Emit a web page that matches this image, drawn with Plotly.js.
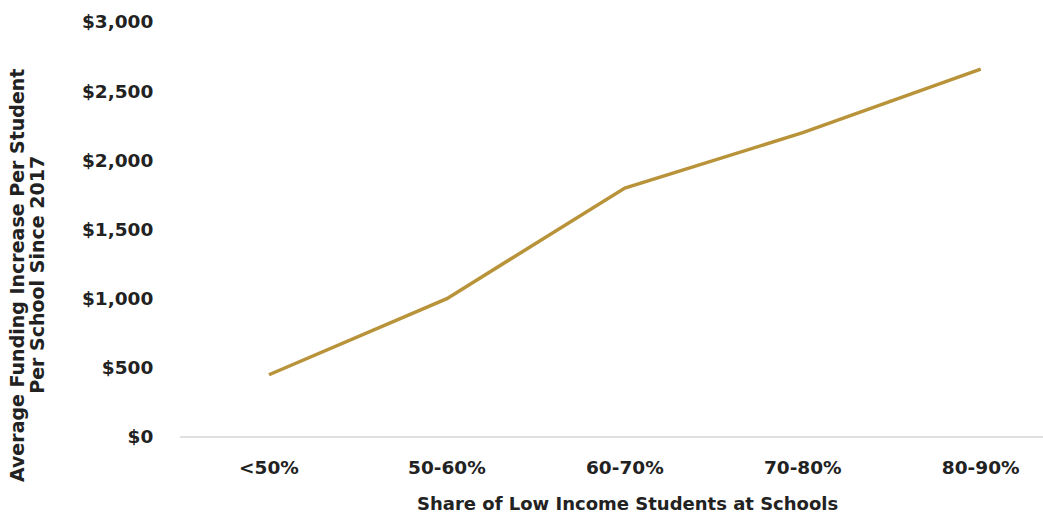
<!DOCTYPE html>
<html>
<head>
<meta charset="utf-8">
<script src="https://cdn.plot.ly/plotly-3.0.1.min.js"></script>
<style>html,body{margin:0;padding:0;background:#fff;}#chart{width:1043px;height:529px;}</style>
</head>
<body>
<div id="chart"></div>
<script>
const categories = ["<50%", "50-60%", "60-70%", "70-80%", "80-90%"];
const fundingIncrease = [450, 1000, 1800, 2200, 2660];
const yTickValues = [0, 500, 1000, 1500, 2000, 2500, 3000];
const yTickLabels = ["$0", "$500", "$1,000", "$1,500", "$2,000", "$2,500", "$3,000"];
const xTitle = "Share of Low Income Students at Schools";
const yTitleLines = ["Average Funding Increase Per Student", "Per School Since 2017"];

const FONT = "'DejaVu Sans', sans-serif";
const INK = "#222222";

const trace = {
  x: categories,
  y: fundingIncrease,
  type: "scatter",
  mode: "lines",
  line: {color: "#b8933a", width: 3.5},
  hoverinfo: "x+y"
};

const layout = {
  width: 1043,
  height: 529,
  margin: {l: 180, r: 0, t: 22, b: 92},
  paper_bgcolor: "#ffffff",
  plot_bgcolor: "#ffffff",
  showlegend: false,
  font: {family: FONT, color: INK, size: 18},
  xaxis: {
    type: "category",
    range: [-0.5, 4.35],
    showgrid: false,
    zeroline: false,
    showline: false,
    ticks: "outside",
    ticklen: 14,
    tickcolor: "rgba(0,0,0,0)",
    tickfont: {family: FONT, size: 18.5, color: INK, weight: "bold"},
    fixedrange: true
  },
  yaxis: {
    range: [0, 3000],
    tickvals: yTickValues,
    ticktext: yTickLabels,
    showgrid: false,
    zeroline: true,
    zerolinecolor: "#e0e0e0",
    zerolinewidth: 2,
    showline: false,
    ticks: "outside",
    ticklen: 22,
    tickcolor: "rgba(0,0,0,0)",
    tickfont: {family: FONT, size: 18.5, color: INK, weight: "bold"},
    fixedrange: true
  },
  annotations: [
    {
      text: xTitle,
      xref: "paper", yref: "paper",
      x: 0.518, y: -0.13,
      xanchor: "center", yanchor: "top",
      showarrow: false,
      font: {family: FONT, size: 18, color: INK, weight: "bold"}
    },
    {
      text: yTitleLines[0],
      xref: "paper", yref: "paper",
      x: -0.189, y: 0.39,
      xanchor: "center", yanchor: "middle",
      textangle: -90,
      showarrow: false,
      font: {family: FONT, size: 19, color: INK, weight: "bold"}
    },
    {
      text: yTitleLines[1],
      xref: "paper", yref: "paper",
      x: -0.165, y: 0.39,
      xanchor: "center", yanchor: "middle",
      textangle: -90,
      showarrow: false,
      font: {family: FONT, size: 19, color: INK, weight: "bold"}
    }
  ]
};

Plotly.newPlot("chart", [trace], layout, {displayModeBar: false, staticPlot: true});
</script>
</body>
</html>
